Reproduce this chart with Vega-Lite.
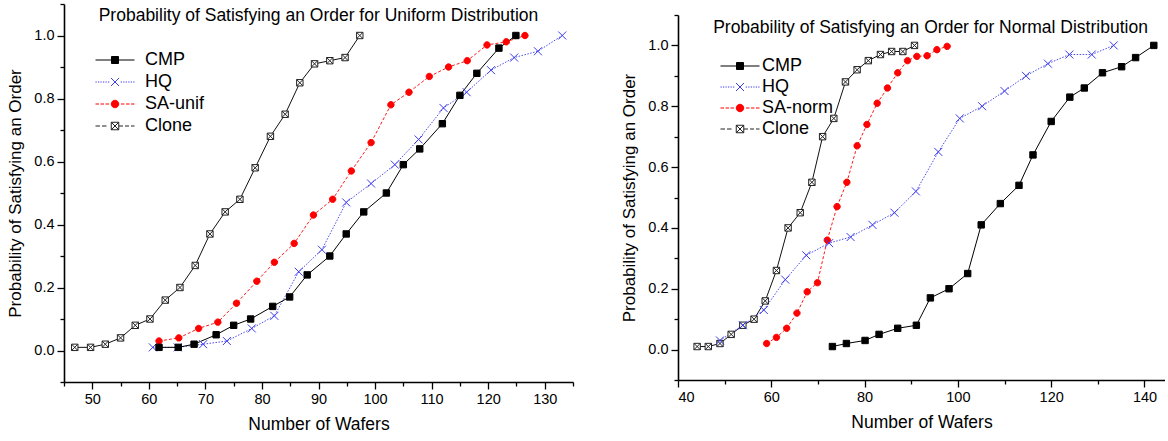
{
  "$schema": "https://vega.github.io/schema/vega-lite/v6.json",
  "background": "white",
  "padding": {"left": 6, "top": 3, "right": 0, "bottom": 0},
  "config": {
    "view": {"stroke": null},
    "font": "Liberation Sans",
    "axis": {"grid": false, "domainColor": "black", "domainWidth": 1.6, "tickColor": "black", "tickWidth": 1.3, "labelColor": "black", "labelFont": "Liberation Sans", "labelFontSize": 14.5, "labelPadding": 3, "titleFont": "Liberation Sans", "titleFontWeight": "normal", "titleColor": "black", "titleFontSize": 17},
    "legend": {"padding": 0, "labelFont": "Liberation Sans", "labelFontSize": 18, "labelColor": "black", "symbolSize": 100, "symbolOpacity": 1, "symbolStrokeWidth": 1},
    "title": {"font": "Liberation Sans", "fontSize": 17.5, "fontWeight": "normal", "color": "black"}
  },
  "resolve": {
    "scale": {"fill": "independent", "stroke": "independent", "shape": "independent", "x": "independent", "y": "independent"},
    "legend": {"shape": "independent", "fill": "independent", "stroke": "independent"}
  },
  "datasets": {
    "uniform": [
      {"series": "CMP", "wafers": 61.8, "prob": 0.01}, {"series": "CMP", "wafers": 65.2, "prob": 0.01}, {"series": "CMP", "wafers": 68.0, "prob": 0.02}, {"series": "CMP", "wafers": 71.9, "prob": 0.05}, {"series": "CMP", "wafers": 75.0, "prob": 0.08}, {"series": "CMP", "wafers": 78.0, "prob": 0.10}, {"series": "CMP", "wafers": 81.9, "prob": 0.14}, {"series": "CMP", "wafers": 84.9, "prob": 0.17}, {"series": "CMP", "wafers": 88.0, "prob": 0.24}, {"series": "CMP", "wafers": 92.0, "prob": 0.30}, {"series": "CMP", "wafers": 94.9, "prob": 0.37}, {"series": "CMP", "wafers": 98.0, "prob": 0.44}, {"series": "CMP", "wafers": 102.0, "prob": 0.50}, {"series": "CMP", "wafers": 105.0, "prob": 0.59}, {"series": "CMP", "wafers": 107.9, "prob": 0.64}, {"series": "CMP", "wafers": 111.9, "prob": 0.72}, {"series": "CMP", "wafers": 115.0, "prob": 0.81}, {"series": "CMP", "wafers": 118.0, "prob": 0.88}, {"series": "CMP", "wafers": 121.9, "prob": 0.96}, {"series": "CMP", "wafers": 124.9, "prob": 1.0},
      {"series": "HQ", "wafers": 60.7, "prob": 0.01}, {"series": "HQ", "wafers": 65.1, "prob": 0.01}, {"series": "HQ", "wafers": 69.6, "prob": 0.02}, {"series": "HQ", "wafers": 73.8, "prob": 0.03}, {"series": "HQ", "wafers": 78.2, "prob": 0.07}, {"series": "HQ", "wafers": 82.2, "prob": 0.11}, {"series": "HQ", "wafers": 86.5, "prob": 0.25}, {"series": "HQ", "wafers": 90.6, "prob": 0.32}, {"series": "HQ", "wafers": 94.9, "prob": 0.47}, {"series": "HQ", "wafers": 99.3, "prob": 0.53}, {"series": "HQ", "wafers": 103.5, "prob": 0.59}, {"series": "HQ", "wafers": 107.7, "prob": 0.67}, {"series": "HQ", "wafers": 112.1, "prob": 0.77}, {"series": "HQ", "wafers": 116.2, "prob": 0.82}, {"series": "HQ", "wafers": 120.5, "prob": 0.89}, {"series": "HQ", "wafers": 124.6, "prob": 0.93}, {"series": "HQ", "wafers": 128.8, "prob": 0.95}, {"series": "HQ", "wafers": 133.1, "prob": 1.0},
      {"series": "SA-unif", "wafers": 61.8, "prob": 0.03}, {"series": "SA-unif", "wafers": 65.3, "prob": 0.04}, {"series": "SA-unif", "wafers": 68.8, "prob": 0.07}, {"series": "SA-unif", "wafers": 72.2, "prob": 0.09}, {"series": "SA-unif", "wafers": 75.5, "prob": 0.15}, {"series": "SA-unif", "wafers": 79.1, "prob": 0.22}, {"series": "SA-unif", "wafers": 82.2, "prob": 0.28}, {"series": "SA-unif", "wafers": 85.7, "prob": 0.34}, {"series": "SA-unif", "wafers": 89.1, "prob": 0.43}, {"series": "SA-unif", "wafers": 92.5, "prob": 0.48}, {"series": "SA-unif", "wafers": 95.8, "prob": 0.57}, {"series": "SA-unif", "wafers": 99.3, "prob": 0.66}, {"series": "SA-unif", "wafers": 102.8, "prob": 0.78}, {"series": "SA-unif", "wafers": 106.0, "prob": 0.82}, {"series": "SA-unif", "wafers": 109.6, "prob": 0.87}, {"series": "SA-unif", "wafers": 113.0, "prob": 0.90}, {"series": "SA-unif", "wafers": 116.3, "prob": 0.92}, {"series": "SA-unif", "wafers": 119.8, "prob": 0.97}, {"series": "SA-unif", "wafers": 123.2, "prob": 0.98}, {"series": "SA-unif", "wafers": 126.5, "prob": 1.0},
      {"series": "Clone", "wafers": 46.9, "prob": 0.01}, {"series": "Clone", "wafers": 49.7, "prob": 0.01}, {"series": "Clone", "wafers": 52.3, "prob": 0.02}, {"series": "Clone", "wafers": 55.0, "prob": 0.04}, {"series": "Clone", "wafers": 57.6, "prob": 0.08}, {"series": "Clone", "wafers": 60.2, "prob": 0.10}, {"series": "Clone", "wafers": 62.9, "prob": 0.16}, {"series": "Clone", "wafers": 65.5, "prob": 0.20}, {"series": "Clone", "wafers": 68.2, "prob": 0.27}, {"series": "Clone", "wafers": 70.8, "prob": 0.37}, {"series": "Clone", "wafers": 73.5, "prob": 0.44}, {"series": "Clone", "wafers": 76.1, "prob": 0.48}, {"series": "Clone", "wafers": 78.8, "prob": 0.58}, {"series": "Clone", "wafers": 81.5, "prob": 0.68}, {"series": "Clone", "wafers": 84.1, "prob": 0.75}, {"series": "Clone", "wafers": 86.7, "prob": 0.85}, {"series": "Clone", "wafers": 89.3, "prob": 0.91}, {"series": "Clone", "wafers": 92.0, "prob": 0.92}, {"series": "Clone", "wafers": 94.7, "prob": 0.93}, {"series": "Clone", "wafers": 97.3, "prob": 1.0}
    ],
    "normal": [
      {"series": "CMP", "wafers": 73.1, "prob": 0.01}, {"series": "CMP", "wafers": 76.1, "prob": 0.02}, {"series": "CMP", "wafers": 80.1, "prob": 0.03}, {"series": "CMP", "wafers": 83.1, "prob": 0.05}, {"series": "CMP", "wafers": 87.1, "prob": 0.07}, {"series": "CMP", "wafers": 91.1, "prob": 0.08}, {"series": "CMP", "wafers": 94.1, "prob": 0.17}, {"series": "CMP", "wafers": 98.1, "prob": 0.20}, {"series": "CMP", "wafers": 102.1, "prob": 0.25}, {"series": "CMP", "wafers": 105.0, "prob": 0.41}, {"series": "CMP", "wafers": 109.1, "prob": 0.48}, {"series": "CMP", "wafers": 113.1, "prob": 0.54}, {"series": "CMP", "wafers": 116.1, "prob": 0.64}, {"series": "CMP", "wafers": 120.0, "prob": 0.75}, {"series": "CMP", "wafers": 124.0, "prob": 0.83}, {"series": "CMP", "wafers": 127.1, "prob": 0.86}, {"series": "CMP", "wafers": 131.0, "prob": 0.91}, {"series": "CMP", "wafers": 135.1, "prob": 0.93}, {"series": "CMP", "wafers": 138.1, "prob": 0.96}, {"series": "CMP", "wafers": 142.0, "prob": 1.0},
      {"series": "HQ", "wafers": 49.0, "prob": 0.03}, {"series": "HQ", "wafers": 53.9, "prob": 0.08}, {"series": "HQ", "wafers": 58.4, "prob": 0.13}, {"series": "HQ", "wafers": 63.0, "prob": 0.23}, {"series": "HQ", "wafers": 67.5, "prob": 0.31}, {"series": "HQ", "wafers": 72.4, "prob": 0.35}, {"series": "HQ", "wafers": 77.0, "prob": 0.37}, {"series": "HQ", "wafers": 81.7, "prob": 0.41}, {"series": "HQ", "wafers": 86.4, "prob": 0.45}, {"series": "HQ", "wafers": 91.0, "prob": 0.52}, {"series": "HQ", "wafers": 95.8, "prob": 0.65}, {"series": "HQ", "wafers": 100.4, "prob": 0.76}, {"series": "HQ", "wafers": 105.2, "prob": 0.80}, {"series": "HQ", "wafers": 110.0, "prob": 0.85}, {"series": "HQ", "wafers": 114.6, "prob": 0.90}, {"series": "HQ", "wafers": 119.3, "prob": 0.94}, {"series": "HQ", "wafers": 123.9, "prob": 0.97}, {"series": "HQ", "wafers": 128.7, "prob": 0.97}, {"series": "HQ", "wafers": 133.4, "prob": 1.0},
      {"series": "SA-norm", "wafers": 59.0, "prob": 0.02}, {"series": "SA-norm", "wafers": 61.1, "prob": 0.04}, {"series": "SA-norm", "wafers": 63.3, "prob": 0.07}, {"series": "SA-norm", "wafers": 65.5, "prob": 0.12}, {"series": "SA-norm", "wafers": 67.7, "prob": 0.19}, {"series": "SA-norm", "wafers": 69.9, "prob": 0.22}, {"series": "SA-norm", "wafers": 72.0, "prob": 0.36}, {"series": "SA-norm", "wafers": 74.1, "prob": 0.47}, {"series": "SA-norm", "wafers": 76.2, "prob": 0.55}, {"series": "SA-norm", "wafers": 78.4, "prob": 0.67}, {"series": "SA-norm", "wafers": 80.5, "prob": 0.74}, {"series": "SA-norm", "wafers": 82.7, "prob": 0.81}, {"series": "SA-norm", "wafers": 84.9, "prob": 0.86}, {"series": "SA-norm", "wafers": 87.1, "prob": 0.91}, {"series": "SA-norm", "wafers": 89.2, "prob": 0.95}, {"series": "SA-norm", "wafers": 91.2, "prob": 0.964}, {"series": "SA-norm", "wafers": 93.4, "prob": 0.966}, {"series": "SA-norm", "wafers": 95.5, "prob": 0.986}, {"series": "SA-norm", "wafers": 97.7, "prob": 0.997},
      {"series": "Clone", "wafers": 44.1, "prob": 0.01}, {"series": "Clone", "wafers": 46.5, "prob": 0.01}, {"series": "Clone", "wafers": 49.0, "prob": 0.02}, {"series": "Clone", "wafers": 51.4, "prob": 0.05}, {"series": "Clone", "wafers": 53.9, "prob": 0.08}, {"series": "Clone", "wafers": 56.3, "prob": 0.10}, {"series": "Clone", "wafers": 58.7, "prob": 0.16}, {"series": "Clone", "wafers": 61.1, "prob": 0.26}, {"series": "Clone", "wafers": 63.6, "prob": 0.40}, {"series": "Clone", "wafers": 66.2, "prob": 0.45}, {"series": "Clone", "wafers": 68.7, "prob": 0.55}, {"series": "Clone", "wafers": 71.0, "prob": 0.70}, {"series": "Clone", "wafers": 73.4, "prob": 0.76}, {"series": "Clone", "wafers": 75.9, "prob": 0.88}, {"series": "Clone", "wafers": 78.4, "prob": 0.92}, {"series": "Clone", "wafers": 80.8, "prob": 0.95}, {"series": "Clone", "wafers": 83.4, "prob": 0.97}, {"series": "Clone", "wafers": 85.8, "prob": 0.98}, {"series": "Clone", "wafers": 88.2, "prob": 0.98}, {"series": "Clone", "wafers": 90.7, "prob": 1.0}
    ]
  },
  "spacing": 46,
  "hconcat": [
    {
      "width": 509,
      "height": 378,
      "data": {"name": "uniform"},
      "title": {"text": "Probability of Satisfying an Order for Uniform Distribution", "anchor": "middle", "offset": -21},
      "encoding": {
        "x": {"field": "wafers", "type": "quantitative", "scale": {"domain": [45, 135], "nice": false, "zero": false},
          "axis": {"title": "Number of Wafers", "titleFontSize": 17.5, "titlePadding": 10, "values": [45, 50, 55, 60, 65, 70, 75, 80, 85, 90, 95, 100, 105, 110, 115, 120, 125, 130, 135], "labelExpr": "datum.value % 10 == 0 ? datum.label : ''", "tickSize": {"condition": {"test": "datum.value % 10 == 0", "value": 7}, "value": 4}}},
        "y": {"field": "prob", "type": "quantitative", "scale": {"domain": [-0.1, 1.1], "nice": false, "zero": false},
          "axis": {"title": "Probability of Satisfying an Order", "titlePadding": 9, "values": [-0.1, 0, 0.1, 0.2, 0.3, 0.4, 0.5, 0.6, 0.7, 0.8, 0.9, 1, 1.1], "labelExpr": "round(datum.value*10) % 2 == 0 ? format(datum.value, '.1f') : ''", "tickSize": {"condition": {"test": "round(datum.value*10) % 2 == 0", "value": 7}, "value": 4}}}
      },
      "layer": [
        {"transform": [{"filter": {"field": "series", "equal": "Clone"}}], "mark": {"type": "line", "color": "#111111", "strokeWidth": 1}, "encoding": {}},
        {"transform": [{"filter": {"field": "series", "equal": "SA-unif"}}], "mark": {"type": "line", "color": "#ff1a1a", "strokeWidth": 1, "strokeDash": [3, 2]}, "encoding": {}},
        {"transform": [{"filter": {"field": "series", "equal": "HQ"}}], "mark": {"type": "line", "color": "#4a4aee", "strokeWidth": 1, "strokeDash": [1.5, 1.5]}, "encoding": {}},
        {"transform": [{"filter": {"field": "series", "equal": "CMP"}}], "mark": {"type": "line", "color": "#000000", "strokeWidth": 1}, "encoding": {}},
        {"transform": [{"filter": {"field": "series", "equal": "Clone"}}], "mark": {"type": "point", "shape": "M-0.8,-0.8H0.8V0.8H-0.8ZM-0.8,-0.8L0.8,0.8M0.8,-0.8L-0.8,0.8", "size": 64, "filled": true, "fill": "#ffffff", "stroke": "#222222", "strokeWidth": 1, "opacity": 1}, "encoding": {}},
        {"transform": [{"filter": {"field": "series", "equal": "SA-unif"}}], "mark": {"type": "point", "shape": "M0.8,0A0.8,0.8,0,1,1,-0.8,0A0.8,0.8,0,1,1,0.8,0Z", "size": 64, "filled": true, "fill": "#ff0000", "stroke": "#ff0000", "strokeWidth": 1, "opacity": 1}, "encoding": {}},
        {"transform": [{"filter": {"field": "series", "equal": "HQ"}}], "mark": {"type": "point", "shape": "M-1,-1L1,1M1,-1L-1,1", "size": 64, "filled": false, "stroke": "#3b3bf0", "strokeWidth": 1, "opacity": 1}, "encoding": {}},
        {"transform": [{"filter": {"field": "series", "equal": "CMP"}}], "mark": {"type": "point", "shape": "M-0.8,-0.8H0.8V0.8H-0.8Z", "size": 64, "filled": true, "fill": "#000000", "stroke": "#000000", "strokeWidth": 1, "opacity": 1}, "encoding": {}},
        {
          "mark": {"type": "point", "size": 0, "filled": true, "opacity": 1, "strokeWidth": 1},
          "encoding": {
            "fill": {"field": "series", "type": "nominal", "scale": {"domain": ["CMP", "HQ", "SA-unif", "Clone"], "range": ["#000000", "transparent", "#ff0000", "#ffffff"]},
              "legend": {"title": null, "orient": "none", "legendX": 42, "legendY": 47, "labelOffset": 21, "rowPadding": 4, "symbolSize": 100}},
            "stroke": {"field": "series", "type": "nominal", "scale": {"domain": ["CMP", "HQ", "SA-unif", "Clone"], "range": ["#000000", "#3b3bf0", "#ff0000", "#222222"]},
              "legend": {"title": null, "orient": "none", "legendX": 42, "legendY": 47, "labelOffset": 21, "rowPadding": 4, "symbolSize": 100}},
            "shape": {"field": "series", "type": "nominal",
              "scale": {"domain": ["CMP", "HQ", "SA-unif", "Clone"], "range": [
                "M-3.9,0H3.9M-0.7,-0.7H0.7V0.7H-0.7Z",
                "M-3.9,0h0.25M-3.4,0h0.25M-2.9,0h0.25M-2.4,0h0.25M-1.9,0h0.25M-1.4,0h0.25M1.15,0h0.25M1.65,0h0.25M2.15,0h0.25M2.65,0h0.25M3.15,0h0.25M3.65,0h0.25M-0.8,-0.8L0.8,0.8M0.8,-0.8L-0.8,0.8",
                "M-3.9,0h0.7M-2.9,0h0.7M-1.9,0h0.7M1.2,0h0.7M2.2,0h0.7M3.2,0h0.7M0.75,0A0.75,0.75,0,1,1,-0.75,0A0.75,0.75,0,1,1,0.75,0Z",
                "M-3.9,0h0.9M-2.6,0h0.9M0.8,0h0.8M2,0h0.8M3.2,0h0.7M-0.75,-0.75H0.75V0.75H-0.75ZM-0.75,-0.75L0.75,0.75M0.75,-0.75L-0.75,0.75"]},
              "legend": {"title": null, "orient": "none", "legendX": 42, "legendY": 47, "labelOffset": 21, "rowPadding": 4, "symbolSize": 100}}
          }
        }
      ]
    },
    {
      "vconcat": [
        {
          "width": 1,
          "height": 11,
          "view": {"fill": "white", "stroke": null},
          "data": {"values": []},
          "mark": "point",
          "encoding": {}
        },
        {
          "width": 487,
          "height": 365,
          "data": {"name": "normal"},
          "title": {"text": "Probability of Satisfying an Order for Normal Distribution", "anchor": "middle", "offset": -22, "dx": 9},
          "encoding": {
            "x": {"field": "wafers", "type": "quantitative", "scale": {"domain": [40, 144.4], "nice": false, "zero": false},
              "axis": {"title": "Number of Wafers", "titleFontSize": 17.5, "titlePadding": 10, "values": [40, 50, 60, 70, 80, 90, 100, 110, 120, 130, 140], "labelExpr": "datum.value % 20 == 0 ? datum.label : ''", "tickSize": {"condition": {"test": "datum.value % 20 == 0", "value": 7}, "value": 4}}},
            "y": {"field": "prob", "type": "quantitative", "scale": {"domain": [-0.1, 1.1], "nice": false, "zero": false},
              "axis": {"title": "Probability of Satisfying an Order", "titlePadding": 9, "values": [-0.1, 0, 0.1, 0.2, 0.3, 0.4, 0.5, 0.6, 0.7, 0.8, 0.9, 1, 1.1], "labelExpr": "round(datum.value*10) % 2 == 0 ? format(datum.value, '.1f') : ''", "tickSize": {"condition": {"test": "round(datum.value*10) % 2 == 0", "value": 7}, "value": 4}}}
          },
          "layer": [
            {"transform": [{"filter": {"field": "series", "equal": "Clone"}}], "mark": {"type": "line", "color": "#111111", "strokeWidth": 1}, "encoding": {}},
            {"transform": [{"filter": {"field": "series", "equal": "SA-norm"}}], "mark": {"type": "line", "color": "#ff1a1a", "strokeWidth": 1, "strokeDash": [3, 2]}, "encoding": {}},
            {"transform": [{"filter": {"field": "series", "equal": "HQ"}}], "mark": {"type": "line", "color": "#4a4aee", "strokeWidth": 1, "strokeDash": [1.5, 1.5]}, "encoding": {}},
            {"transform": [{"filter": {"field": "series", "equal": "CMP"}}], "mark": {"type": "line", "color": "#000000", "strokeWidth": 1}, "encoding": {}},
            {"transform": [{"filter": {"field": "series", "equal": "Clone"}}], "mark": {"type": "point", "shape": "M-0.8,-0.8H0.8V0.8H-0.8ZM-0.8,-0.8L0.8,0.8M0.8,-0.8L-0.8,0.8", "size": 64, "filled": true, "fill": "#ffffff", "stroke": "#222222", "strokeWidth": 1, "opacity": 1}, "encoding": {}},
            {"transform": [{"filter": {"field": "series", "equal": "SA-norm"}}], "mark": {"type": "point", "shape": "M0.8,0A0.8,0.8,0,1,1,-0.8,0A0.8,0.8,0,1,1,0.8,0Z", "size": 64, "filled": true, "fill": "#ff0000", "stroke": "#ff0000", "strokeWidth": 1, "opacity": 1}, "encoding": {}},
            {"transform": [{"filter": {"field": "series", "equal": "HQ"}}], "mark": {"type": "point", "shape": "M-1,-1L1,1M1,-1L-1,1", "size": 64, "filled": false, "stroke": "#3b3bf0", "strokeWidth": 1, "opacity": 1}, "encoding": {}},
            {"transform": [{"filter": {"field": "series", "equal": "CMP"}}], "mark": {"type": "point", "shape": "M-0.8,-0.8H0.8V0.8H-0.8Z", "size": 64, "filled": true, "fill": "#000000", "stroke": "#000000", "strokeWidth": 1, "opacity": 1}, "encoding": {}},
            {
              "mark": {"type": "point", "size": 0, "filled": true, "opacity": 1, "strokeWidth": 1},
              "encoding": {
                "fill": {"field": "series", "type": "nominal", "scale": {"domain": ["CMP", "HQ", "SA-norm", "Clone"], "range": ["#000000", "transparent", "#ff0000", "#ffffff"]},
                  "legend": {"title": null, "orient": "none", "legendX": 53, "legendY": 42, "labelOffset": 13, "rowPadding": 3, "symbolSize": 100}},
                "stroke": {"field": "series", "type": "nominal", "scale": {"domain": ["CMP", "HQ", "SA-norm", "Clone"], "range": ["#000000", "#3b3bf0", "#ff0000", "#222222"]},
                  "legend": {"title": null, "orient": "none", "legendX": 53, "legendY": 42, "labelOffset": 13, "rowPadding": 3, "symbolSize": 100}},
                "shape": {"field": "series", "type": "nominal",
                  "scale": {"domain": ["CMP", "HQ", "SA-norm", "Clone"], "range": [
                    "M-3.9,0H3.9M-0.7,-0.7H0.7V0.7H-0.7Z",
                    "M-3.9,0h0.25M-3.4,0h0.25M-2.9,0h0.25M-2.4,0h0.25M-1.9,0h0.25M-1.4,0h0.25M1.15,0h0.25M1.65,0h0.25M2.15,0h0.25M2.65,0h0.25M3.15,0h0.25M3.65,0h0.25M-0.8,-0.8L0.8,0.8M0.8,-0.8L-0.8,0.8",
                    "M-3.9,0h0.7M-2.9,0h0.7M-1.9,0h0.7M1.2,0h0.7M2.2,0h0.7M3.2,0h0.7M0.75,0A0.75,0.75,0,1,1,-0.75,0A0.75,0.75,0,1,1,0.75,0Z",
                    "M-3.9,0h0.9M-2.6,0h0.9M0.8,0h0.8M2,0h0.8M3.2,0h0.7M-0.75,-0.75H0.75V0.75H-0.75ZM-0.75,-0.75L0.75,0.75M0.75,-0.75L-0.75,0.75"]},
                  "legend": {"title": null, "orient": "none", "legendX": 53, "legendY": 42, "labelOffset": 13, "rowPadding": 3, "symbolSize": 100}}
              }
            }
          ]
        }
      ],
      "spacing": 0,
      "bounds": "flush",
      "resolve": {
        "scale": {"fill": "independent", "stroke": "independent", "shape": "independent"},
        "legend": {"shape": "independent", "fill": "independent", "stroke": "independent"}
      }
    }
  ]
}
